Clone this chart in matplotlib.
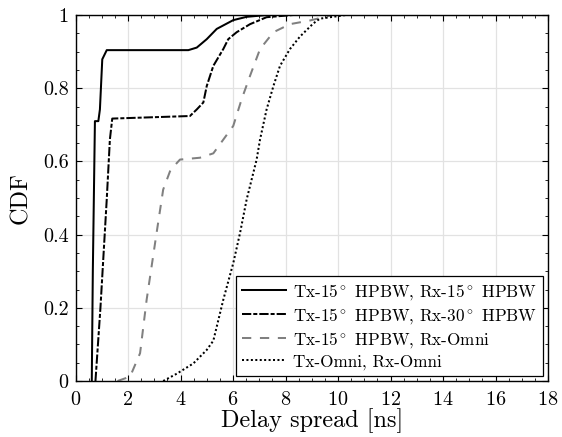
import matplotlib
matplotlib.use("Agg")
import matplotlib.pyplot as plt
import numpy as np
from matplotlib.ticker import MultipleLocator, FuncFormatter

plt.rcParams['font.family'] = ['cmr10', 'DejaVu Serif']
plt.rcParams['mathtext.fontset'] = 'cm'
plt.rcParams['axes.formatter.use_mathtext'] = True

# Tx-15 HPBW, Rx-15 HPBW
x_15_15 = [0.62, 0.66, 0.74, 0.87, 0.93, 1.02, 1.19, 4.30, 4.62, 5.00, 5.38, 6.01, 6.52, 7.30, 18.0]
y_15_15 = [0.0, 0.30, 0.71, 0.71, 0.742, 0.879, 0.904, 0.904, 0.911, 0.934, 0.962, 0.986, 0.995, 1.0, 1.0]

# Tx-15 HPBW, Rx-30 HPBW
x_15_30 = [0.76, 0.95, 1.19, 1.31, 1.40, 4.36, 4.62, 4.87, 5.00, 5.25, 5.63, 5.82, 6.14, 6.65, 7.28, 8.29, 18.0]
y_15_30 = [0.0, 0.20, 0.496, 0.66, 0.717, 0.724, 0.742, 0.761, 0.806, 0.861, 0.907, 0.934, 0.953, 0.975, 0.994, 1.0, 1.0]

# Tx-15 HPBW, Rx-Omni
x_15_omni = [1.60, 2.08, 2.46, 2.71, 3.09, 3.34, 3.60, 3.79, 3.98, 4.74, 5.25, 6.01, 6.33, 6.65, 7.03, 7.54, 8.17, 8.93, 9.80, 18.0]
y_15_omni = [0.0, 0.012, 0.076, 0.222, 0.405, 0.523, 0.573, 0.59, 0.605, 0.61, 0.622, 0.697, 0.77, 0.834, 0.907, 0.953, 0.975, 0.985, 1.0, 1.0]

# Tx-Omni, Rx-Omni
x_omni_omni = [3.34, 3.86, 4.49, 5.00, 5.25, 5.63, 6.01, 6.27, 6.52, 6.90, 7.03, 7.28, 7.54, 7.79, 8.17, 8.55, 9.06, 9.31, 10.3, 18.0]
y_omni_omni = [0.0, 0.02, 0.048, 0.085, 0.11, 0.222, 0.322, 0.405, 0.496, 0.605, 0.66, 0.742, 0.806, 0.861, 0.907, 0.941, 0.977, 0.99, 1.0, 1.0]

labels = ['Tx-15$^\\circ$ HPBW, Rx-15$^\\circ$ HPBW',
          'Tx-15$^\\circ$ HPBW, Rx-30$^\\circ$ HPBW',
          'Tx-15$^\\circ$ HPBW, Rx-Omni',
          'Tx-Omni, Rx-Omni']

fig = plt.figure(figsize=(5.62, 4.37), dpi=100)
ax = fig.add_axes([75.5/562, 1 - 381/437, (548 - 75.5)/562, (381 - 15)/437])

ax.plot(x_15_15, y_15_15, color='black', lw=1.45, ls='-', label=labels[0])
ax.plot(x_15_30, y_15_30, color='black', lw=1.45, ls=(0, (4.6, 1.0, 2.0, 1.0)), label=labels[1])
ax.plot(x_15_omni, y_15_omni, color='#808080', lw=1.45, ls=(0, (4.6, 4.3)), label=labels[2])
ax.plot(x_omni_omni, y_omni_omni, color='black', lw=1.45, ls=(0, (1, 1.2)), label=labels[3])

ax.set_xlim(0, 18)
ax.set_ylim(0, 1)
ax.xaxis.set_major_locator(MultipleLocator(2))
ax.xaxis.set_minor_locator(MultipleLocator(0.5))
ax.yaxis.set_major_locator(MultipleLocator(0.2))
ax.yaxis.set_minor_locator(MultipleLocator(0.05))
ax.yaxis.set_major_formatter(FuncFormatter(lambda v, p: '%g' % round(v, 2)))
ax.tick_params(which='both', direction='in', top=True, right=True, labelsize=14.5)
ax.tick_params(which='major', length=4, width=0.8)
ax.tick_params(which='minor', length=2, width=0.6)
ax.tick_params(axis='x', which='major', pad=7)
ax.tick_params(axis='y', which='major', pad=5)
ax.grid(True, which='major', color='#e2e2e2', lw=0.9)
ax.set_axisbelow(True)
for s in ax.spines.values():
    s.set_linewidth(1.0)

ax.set_xlabel('Delay spread [ns]', fontsize=17.5, labelpad=0)
ax.set_ylabel('CDF', fontsize=17.5, labelpad=8)

leg = ax.legend(loc='lower right', fontsize=12.3, fancybox=False, framealpha=1,
                edgecolor='black', borderaxespad=0.3, handlelength=2.55,
                handletextpad=0.4, labelspacing=0.25, borderpad=0.35)
leg.get_frame().set_linewidth(0.9)

fig.savefig('out.png', dpi=100)
